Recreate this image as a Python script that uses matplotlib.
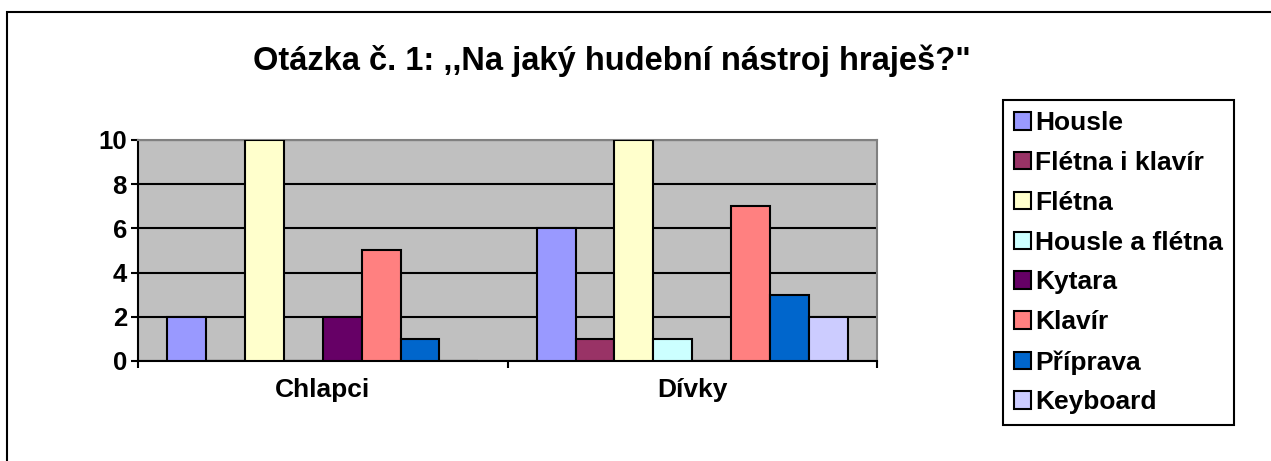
import matplotlib.pyplot as plt
import matplotlib.patches as mpatches
import numpy as np

plt.rcParams['font.family'] = ['Liberation Sans', 'DejaVu Sans']

# data
groups = ['Chlapci', 'Dívky']
series = ['Housle', 'Flétna i klavír', 'Flétna', 'Housle a flétna',
          'Kytara', 'Klavír', 'Příprava', 'Keyboard']
chlapci = [2, 0, 10, 0, 2, 5, 1, 0]
divky = [6, 1, 10, 1, 0, 7, 3, 2]
colors = ['#9999FF', '#993366', '#FFFFCC', '#CCFFFF',
          '#660066', '#FF8080', '#0066CC', '#CCCCFF']
yticks = [0, 2, 4, 6, 8, 10]

fig = plt.figure(figsize=(12.71, 4.61), dpi=100)
ax = fig.add_axes([138/1271, 1 - 361/461, (877 - 138)/1271, (361 - 140)/461])
ax.set_facecolor('#C0C0C0')

# outer chart border (runs off the right and bottom edges)
border = mpatches.Rectangle((7/1271, -0.1), 1.2, 1 - 12/461 + 0.1,
                            transform=fig.transFigure, fill=False,
                            edgecolor='black', lw=1.5, clip_on=False)
fig.patches.append(border)

values = np.array([chlapci, divky])
bw = 1 / 9.5
x = np.arange(len(groups))
for i, name in enumerate(series):
    offs = (i - 3.5) * bw
    ax.bar(x + offs, values[:, i], width=bw, color=colors[i],
           edgecolor='black', lw=1.5, zorder=3, label=name)

ax.set_xlim(-0.5, 1.5)
ax.set_ylim(0, 10)
ax.set_yticks(yticks)
ax.set_yticklabels([str(v) for v in yticks], fontsize=18.5, fontweight='bold')
ax.yaxis.grid(True, color='black', lw=1.5, zorder=1)
ax.set_axisbelow(True)

ax.set_xticks([-0.5, 0.5, 1.5])
ax.set_xticklabels([])
ax.set_xticks(x, minor=True)
ax.set_xticklabels(groups, minor=True, fontsize=19, fontweight='bold')
ax.tick_params(axis='x', which='minor', length=0, pad=12)
ax.tick_params(axis='x', which='major', direction='out', length=5, width=1.5)
ax.tick_params(axis='y', direction='out', length=5, width=1.5, pad=3)

for s in ['left', 'bottom']:
    ax.spines[s].set_color('black')
    ax.spines[s].set_linewidth(1.5)
for s in ['top', 'right']:
    ax.spines[s].set_color('#808080')
    ax.spines[s].set_linewidth(1.5)

fig.text(612/1271, 1 - 61/461, 'Otázka č. 1: ,,Na jaký hudební nástroj hraješ?"',
         ha='center', va='center', fontsize=23.5, fontweight='bold')

handles, labels = ax.get_legend_handles_labels()
leg = fig.legend(handles, labels, loc='upper left',
                 bbox_to_anchor=(1003/1271, 1 - 100/461),
                 prop={'size': 19, 'weight': 'bold'}, frameon=True,
                 fancybox=False, framealpha=1, borderpad=0.42,
                 labelspacing=0.6, handlelength=0.65, handleheight=0.65,
                 handletextpad=0.15, borderaxespad=0)
leg.get_frame().set_edgecolor('black')
leg.get_frame().set_linewidth(1.5)

plt.savefig('out.png', dpi=100)
